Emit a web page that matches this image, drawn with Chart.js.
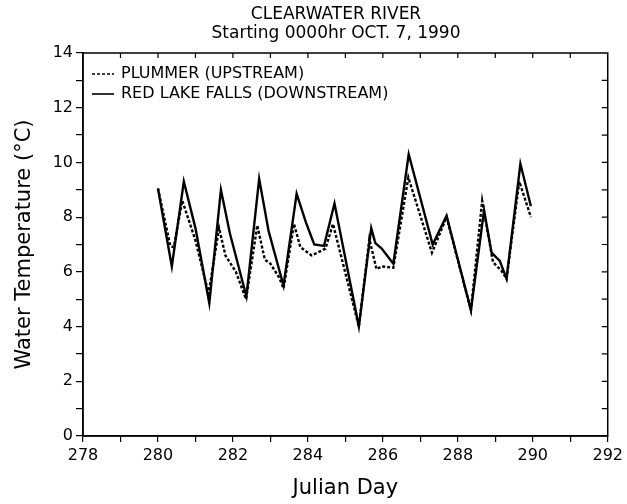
<!DOCTYPE html>
<html>
<head>
<meta charset="utf-8">
<script src="https://cdn.jsdelivr.net/npm/chart.js@4"></script>
<style>
  html, body { margin: 0; padding: 0; background: #fff; }
  #wrap { width: 627px; height: 504px; }
</style>
</head>
<body>
<div id="wrap"><canvas id="chart" width="627" height="504"></canvas></div>
<script>
// data
const plummerDays = [280.0, 280.33, 280.42, 280.65, 281.0, 281.35, 281.63, 281.8, 282.08, 282.35, 282.65, 282.85, 283.0, 283.23, 283.35, 283.63, 283.8, 284.1, 284.25, 284.47, 284.67, 285.36, 285.64, 285.83, 285.97, 286.28, 286.68, 287.31, 287.7, 288.35, 288.65, 288.94, 289.16, 289.3, 289.64, 289.95];
const plummerTemps = [9.05, 6.95, 6.9, 8.6, 7.15, 5.2, 7.6, 6.6, 6.0, 5.0, 7.7, 6.45, 6.3, 5.8, 5.4, 7.75, 6.9, 6.6, 6.7, 6.85, 7.75, 4.0, 7.2, 6.1, 6.2, 6.15, 9.45, 6.7, 8.0, 4.6, 8.6, 6.35, 6.05, 5.75, 9.3, 8.0];

const redLakeDays = [280.0, 280.37, 280.69, 281.0, 281.37, 281.68, 281.92, 282.36, 282.7, 282.95, 283.35, 283.7, 283.95, 284.17, 284.43, 284.71, 285.36, 285.69, 285.8, 285.97, 286.28, 286.69, 287.33, 287.7, 288.35, 288.7, 288.9, 289.12, 289.3, 289.67, 289.95];
const redLakeTemps = [9.05, 6.2, 9.3, 7.6, 4.85, 9.0, 7.4, 5.1, 9.4, 7.5, 5.5, 8.85, 7.8, 7.0, 6.95, 8.5, 4.0, 7.6, 7.05, 6.85, 6.3, 10.3, 7.0, 8.05, 4.6, 8.25, 6.7, 6.4, 5.75, 9.95, 8.4];

const xTicks = [278, 280, 282, 284, 286, 288, 290, 292];
const yTicks = [0, 2, 4, 6, 8, 10, 12, 14];
const titleLines = ['CLEARWATER RIVER', 'Starting 0000hr OCT. 7, 1990'];
const seriesNames = ['PLUMMER (UPSTREAM)', 'RED LAKE FALLS (DOWNSTREAM)'];

const FONT = '"DejaVu Sans", Verdana, sans-serif';
const INK = '#000';

function pts(xs, ys) {
  return xs.map((x, i) => ({ x, y: ys[i] }));
}

// frame, inner ticks on top/right, titles, legend
const decor = {
  id: 'decor',
  afterDraw(chart) {
    const { ctx, chartArea: a, scales } = chart;
    ctx.save();
    ctx.strokeStyle = INK;
    ctx.lineWidth = 1.5;
    ctx.strokeRect(a.left, a.top, a.right - a.left, a.bottom - a.top);

    ctx.lineWidth = 1.2;
    ctx.beginPath();
    for (let d = 279; d < 292; d++) {
      const px = scales.x.getPixelForValue(d);
      ctx.moveTo(px, a.top);
      ctx.lineTo(px, a.top + 5);
    }
    for (let v = 1; v < 14; v++) {
      const py = scales.y.getPixelForValue(v);
      ctx.moveTo(a.right, py);
      ctx.lineTo(a.right - 6, py);
    }
    ctx.stroke();

    // title
    ctx.fillStyle = INK;
    ctx.textAlign = 'center';
    ctx.textBaseline = 'middle';
    ctx.font = '17px ' + FONT;
    ctx.fillText(titleLines[0], 336, 15);
    ctx.fillText(titleLines[1], 336, 34);

    // legend
    ctx.textAlign = 'left';
    ctx.font = '16px ' + FONT;
    const lx = 92, ly = [74, 94];
    ctx.lineWidth = 1.6;
    ctx.setLineDash([3, 2]);
    ctx.beginPath(); ctx.moveTo(lx, ly[0]); ctx.lineTo(lx + 22, ly[0]); ctx.stroke();
    ctx.setLineDash([]);
    ctx.beginPath(); ctx.moveTo(lx, ly[1]); ctx.lineTo(lx + 22, ly[1]); ctx.stroke();
    ctx.fillText(seriesNames[0], lx + 29, ly[0]);
    ctx.fillText(seriesNames[1], lx + 29, ly[1]);
    ctx.restore();
  }
};

new Chart(document.getElementById('chart'), {
  type: 'line',
  plugins: [decor],
  data: {
    datasets: [
      { label: seriesNames[0], data: pts(plummerDays, plummerTemps), borderColor: INK, borderWidth: 2.4, borderDash: [3, 2], pointRadius: 0, tension: 0, fill: false },
      { label: seriesNames[1], data: pts(redLakeDays, redLakeTemps), borderColor: INK, borderWidth: 2.4, pointRadius: 0, tension: 0, fill: false },
    ],
  },
  options: {
    responsive: false, animation: false,
    layout: { padding: { top: 53, right: 17, left: 0, bottom: 0 }, autoPadding: false },
    plugins: { legend: { display: false }, title: { display: false }, tooltip: { enabled: false } },
    scales: {
      x: {
        type: 'linear', min: 278, max: 292,
        afterFit: s => { s.height = 504 - 53 - 383; },
        ticks: {
          stepSize: 1, autoSkip: false, maxRotation: 0, color: INK, padding: 4,
          font: { family: FONT, size: 16 },
          callback: v => xTicks.includes(v) ? String(v) : '',
        },
        grid: { drawOnChartArea: false, drawTicks: true, tickLength: 6, color: INK, lineWidth: 1.2 },
        border: { display: true, color: INK, width: 1.5 },
        title: { display: true, text: 'Julian Day', color: INK, font: { family: FONT, size: 21 }, padding: { top: 0, bottom: 3 } },
      },
      y: {
        min: 0, max: 14,
        afterFit: s => { s.width = 83; },
        ticks: {
          stepSize: 1, autoSkip: false, color: INK, padding: 3,
          font: { family: FONT, size: 16 },
          callback: v => yTicks.includes(v) ? String(v) : '',
        },
        grid: { drawOnChartArea: false, drawTicks: true, tickLength: 7, color: INK, lineWidth: 1.2 },
        border: { display: true, color: INK, width: 1.5 },
        title: { display: true, text: 'Water Temperature (°C)', color: INK, font: { family: FONT, size: 21 }, padding: { top: 12, bottom: 0 } },
      },
    },
  },
});
</script>
</body>
</html>
